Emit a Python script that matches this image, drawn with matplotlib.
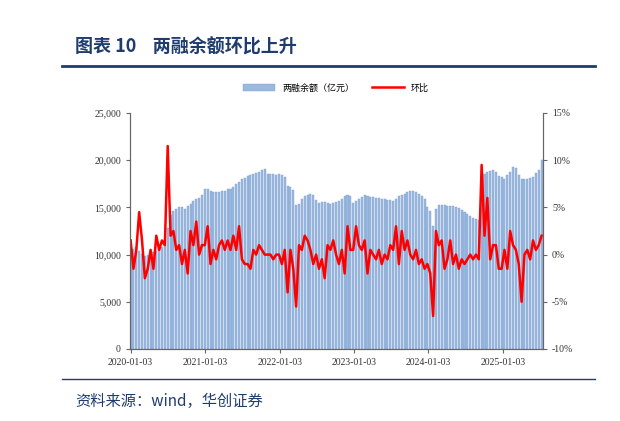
import numpy as np
import matplotlib
matplotlib.use("Agg")
import matplotlib.pyplot as plt
import matplotlib.dates as mdates
from matplotlib.ticker import MultipleLocator, FuncFormatter
import datetime as dt

plt.rcParams['font.family'] = ['Noto Sans CJK SC']

# biweekly samples starting 2020-01-03
balance_2020 = [10500, 10600, 10800, 10400, 10100, 9800, 10000, 10100, 10300, 10400, 10600, 10800, 11000,
                12800, 14200, 14600, 14800, 15000, 15000, 14800, 15100, 15400, 15700, 15900, 16000, 16300]
balance_2021 = [17000, 16900, 16700, 16600, 16600, 16600, 16700, 16700, 16900, 17000, 17200, 17500, 17700,
                18000, 18100, 18300, 18400, 18500, 18600, 18800, 19000, 19100, 18500, 18500, 18500, 18400]
balance_2022 = [18500, 18400, 18200, 17300, 17200, 16800, 15300, 15400, 15900, 16200, 16300, 16400, 16300,
                15800, 15500, 15600, 15600, 15500, 15400, 15500, 15600, 15700, 15900, 16200, 16300, 16200]
balance_2023 = [15500, 15700, 15900, 16100, 16300, 16200, 16100, 16100, 16000, 16000, 15900, 15900, 15800,
                15800, 15700, 15900, 16200, 16300, 16400, 16600, 16700, 16700, 16600, 16400, 16200, 15900]
balance_2024 = [15000, 14600, 13000, 14800, 15300, 15300, 15300, 15200, 15200, 15100, 15000, 14900, 14700,
                14500, 14300, 14100, 13900, 13800, 13700, 16800, 18500, 18700, 18900, 19000, 18700, 18300]
balance_2025 = [18200, 18000, 18400, 18800, 19300, 19200, 18400, 18000, 18000, 18000, 18100, 18200, 18600,
                19000, 20000]

ratio_2020 = [1.5, -1.5, 0.5, 4.5, 1.5, -2.5, -1.5, 0.5, -1.5, 2.0, 0.5, 1.5, 1.0,
              11.5, 2.0, 2.5, 0.5, 1.0, -1.0, 0.5, -2.0, 2.5, 1.0, 3.5, 0.0, 1.0]
ratio_2021 = [1.0, 3.0, -1.0, 0.5, -0.5, 1.0, 1.5, 0.5, 1.5, 0.5, 2.0, 0.5, 3.0,
              -0.5, -1.0, -1.0, -1.5, 0.5, 0.0, 1.0, 0.5, 0.0, 0.0, 0.0, -0.5, 0.0]
ratio_2022 = [0.0, -1.0, 0.5, -4.0, 0.5, -1.5, -5.5, 1.0, 0.5, 2.0, 1.5, 0.5, -1.0,
              0.0, -1.5, -0.5, -2.5, 1.0, 0.5, 1.5, 0.0, -1.0, 0.5, -2.0, 3.0, 0.5]
ratio_2023 = [0.5, 3.0, 1.0, 0.5, 1.5, -2.0, 0.5, 0.0, -0.5, 0.5, -1.0, 0.0, -0.5,
              1.0, 0.5, 3.0, -1.0, 2.5, 0.5, 1.5, 0.0, -0.5, 0.5, -1.0, -0.5, -1.5]
ratio_2024 = [-1.0, -2.0, -6.5, 2.5, 1.0, 1.5, -1.5, -0.5, 1.5, -1.0, 0.0, -1.5, -0.5,
              -1.0, -0.5, 0.0, -0.5, 0.0, -0.5, 9.5, 2.0, 6.0, -0.5, 1.0, 1.0, -1.5]
ratio_2025 = [-1.5, 0.5, -1.5, 2.5, 1.0, 0.5, -1.0, -5.0, 0.0, 0.5, -0.5, 1.5, 0.5,
              1.0, 2.0]

tick_labels = ['2020-01-03', '2021-01-03', '2022-01-03', '2023-01-03', '2024-01-03', '2025-01-03']

balance = balance_2020 + balance_2021 + balance_2022 + balance_2023 + balance_2024 + balance_2025
ratio = ratio_2020 + ratio_2021 + ratio_2022 + ratio_2023 + ratio_2024 + ratio_2025
start = dt.date(2020, 1, 3)
dates = [start + dt.timedelta(days=14 * i) for i in range(len(balance))]

fig = plt.figure(figsize=(6.2, 4.21), dpi=100)
W, H = 620, 421
ax = fig.add_axes([130 / W, 1 - 349 / H, (543 - 130) / W, (349 - 113) / H])

ax.bar(dates, balance, width=10, color='#9BB8DE', edgecolor='#7FA3D3', linewidth=0.3, label='两融余额（亿元）')
ax.set_ylim(0, 25000)
ax.yaxis.set_major_locator(MultipleLocator(5000))
ax.yaxis.set_major_formatter(FuncFormatter(lambda v, p: f'{int(v):,}'))
ax.set_xlim(dates[0] - dt.timedelta(days=3), dates[-1] + dt.timedelta(days=7))
ax.set_xticks([dt.datetime.strptime(t, '%Y-%m-%d') for t in tick_labels])
ax.set_xticklabels(tick_labels)

ax2 = ax.twinx()
ax2.plot(dates, ratio, color='#FF0000', linewidth=1.8, label='环比')
ax2.set_ylim(-10, 15)
ax2.yaxis.set_major_locator(MultipleLocator(5))
ax2.yaxis.set_major_formatter(FuncFormatter(lambda v, p: f'{int(v)}%'))

for a in (ax, ax2):
    for s in ['top']:
        a.spines[s].set_visible(False)
    for s in ['left', 'right', 'bottom']:
        a.spines[s].set_color('#666666')
    a.tick_params(labelsize=7, length=3, color='#666666', labelcolor='#333333')
    for lab in a.get_xticklabels() + a.get_yticklabels():
        lab.set_fontfamily('Liberation Serif')

h1, l1 = ax.get_legend_handles_labels()
h2, l2 = ax2.get_legend_handles_labels()
fig.legend(h1 + h2, l1 + l2, loc='center', bbox_to_anchor=(336 / W, 1 - 88 / H), ncol=2,
           frameon=False, fontsize=6.5, handlelength=3.5, columnspacing=2)

# header and footer
fig.text(75 / W, 1 - 47 / H, '图表 10    两融余额环比上升', fontsize=13, fontweight='bold',
         color='#1F3C6E', va='center', fontfamily='Noto Sans CJK SC')
fig.add_artist(plt.Line2D([62 / W, 595 / W], [1 - 66 / H, 1 - 66 / H], color='#1F3C6E', linewidth=2))
fig.add_artist(plt.Line2D([62 / W, 595 / W], [1 - 379 / H, 1 - 379 / H], color='#1F3C6E', linewidth=1))
fig.text(75 / W, 1 - 401 / H, '资料来源：wind，华创证券', fontsize=11, style='italic',
         color='#1F3C6E', va='center')

fig.savefig('out.png', dpi=100)
